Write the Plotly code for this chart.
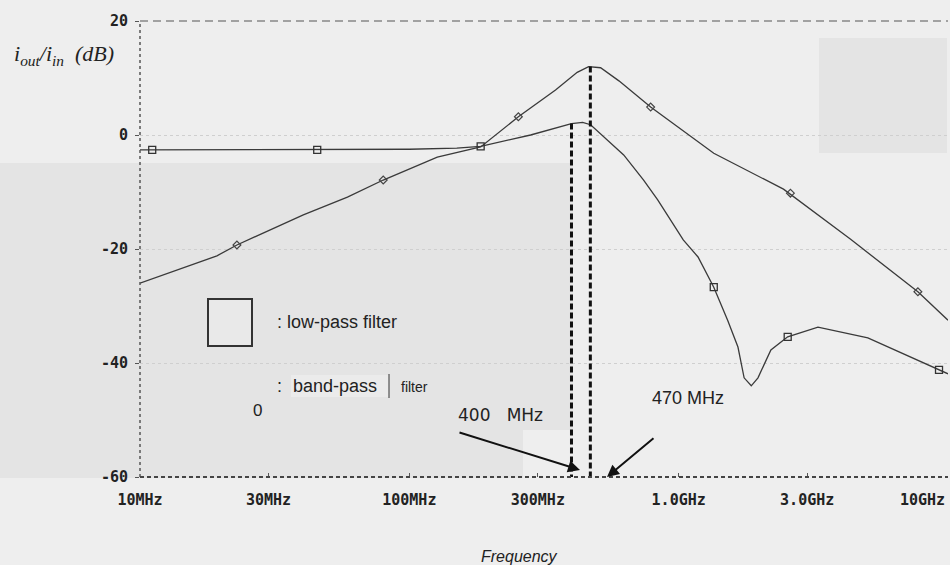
import plotly.graph_objects as go

# ---- data ----
lp_freq = [10, 30, 100, 150, 184, 282, 364, 400, 440, 471, 625, 741, 836, 1040, 1180,
           1350, 1520, 1660, 1750, 1860, 1970, 2200, 2540, 3290, 5040, 9260, 10000]
lp_db = [-2.6, -2.6, -2.5, -2.3, -2.0, 0.0, 1.4, 2.0, 2.2, 1.8, -3.5, -7.9, -11.4, -18.4, -21.4,
         -26.7, -32.5, -37.2, -42.6, -44.0, -42.6, -37.7, -35.4, -33.7, -35.6, -41.2, -41.9]

bp_freq = [10, 19.3, 22.9, 30.4, 40.4, 58.9, 80, 127, 184, 254, 349, 420, 463, 513, 600,
           787, 1350, 2450, 4350, 7730, 10000]
bp_db = [-26.0, -21.2, -19.3, -16.7, -14.0, -10.9, -7.9, -3.9, -2.1, 3.2, 7.9, 11.0, 12.0, 11.8, 9.5,
         4.9, -3.2, -9.5, -18.3, -27.5, -32.5]

lp_mk_freq = [11.1, 45.5, 184, 1350, 2540, 9260]
lp_mk_db = [-2.6, -2.6, -2.0, -26.7, -35.4, -41.2]
bp_mk_freq = [22.9, 80, 254, 787, 2600, 7730]
bp_mk_db = [-19.3, -7.9, 3.2, 4.9, -10.2, -27.5]

mark_freq = [400, 470]
mark_top = [2.0, 12.0]
y_bottom = -60

x_tickvals = [10, 30, 100, 300, 1000, 3000]
x_ticktext = ["10MHz", "30MHz", "100MHz", "300MHz", "1.0GHz", "3.0GHz"]
x_last_label = "10GHz"
y_tickvals = [20, 0, -20, -40, -60]
y_ticktext = ["20", "0", "-20", "-40", "-60"]

# ---- layout geometry (pixels) ----
W, H = 950, 565
L, R, T, B = 140, 948, 21, 477


def px(x):
    return (x - L) / (R - L)


def py(y):
    return (B - y) / (B - T)


PAPER = "#eeeeee"
BOX = "#e4e4e4"
INK = "#3a3a3a"
TICKFONT = dict(family="DejaVu Sans Mono", size=15, color="#222", weight="bold")

fig = go.Figure()

fig.add_trace(go.Scatter(x=lp_freq, y=lp_db, mode="lines",
                         line=dict(color=INK, width=1.3), showlegend=False))
fig.add_trace(go.Scatter(x=bp_freq, y=bp_db, mode="lines",
                         line=dict(color=INK, width=1.3), showlegend=False))
fig.add_trace(go.Scatter(x=lp_mk_freq, y=lp_mk_db, mode="markers",
                         marker=dict(symbol="square-open", size=7, color="#333",
                                     line=dict(width=1.3)), showlegend=False))
fig.add_trace(go.Scatter(x=bp_mk_freq, y=bp_mk_db, mode="markers",
                         marker=dict(symbol="diamond-open", size=6, color="#444",
                                     line=dict(width=1.2)), showlegend=False))
for f, top in zip(mark_freq, mark_top):
    fig.add_trace(go.Scatter(x=[f, f], y=[top, y_bottom], mode="lines",
                             line=dict(color="#111", width=3, dash="6px,3px"),
                             showlegend=False))

shapes = [
    # paste-over boxes
    dict(type="rect", xref="paper", yref="paper", x0=px(0), x1=px(573), y0=py(430), y1=py(163),
         fillcolor=BOX, line=dict(width=0), layer="below"),
    dict(type="rect", xref="paper", yref="paper", x0=px(0), x1=px(523), y0=py(478), y1=py(430),
         fillcolor=BOX, line=dict(width=0), layer="below"),
    dict(type="rect", xref="paper", yref="paper", x0=px(819), x1=px(947), y0=py(153), y1=py(38),
         fillcolor=BOX, line=dict(width=0), layer="below"),
    # frame lines
    dict(type="line", xref="paper", yref="paper", x0=0, x1=0, y0=0, y1=1,
         line=dict(color="#555", width=1.5, dash="dot")),
    dict(type="line", xref="paper", yref="paper", x0=0, x1=1, y0=1, y1=1,
         line=dict(color="#555", width=1.2, dash="8px,5px")),
    dict(type="line", xref="paper", yref="paper", x0=0, x1=1, y0=0, y1=0,
         line=dict(color="#444", width=2, dash="4px,3px")),
    # legend square
    dict(type="rect", xref="paper", yref="paper", x0=px(208), x1=px(252), y0=py(346), y1=py(299),
         fillcolor="#e9e9e9", line=dict(color="#333", width=2)),
    # highlight behind "band-pass"
    dict(type="rect", xref="paper", yref="paper", x0=px(291), x1=px(389), y0=py(397), y1=py(375),
         fillcolor="#ebebeb", line=dict(width=0), layer="below"),
    dict(type="line", xref="paper", yref="paper", x0=px(389), x1=px(389), y0=py(398), y1=py(374),
         line=dict(color="#333", width=1)),
]

ann = [
    dict(x=px(12), y=py(55), xref="paper", yref="paper", xanchor="left", yanchor="middle",
         text="<i>i</i><sub><i>out</i></sub><i>/i</i><sub><i>in</i></sub>&nbsp;&nbsp;<i>(dB)</i>",
         showarrow=False, font=dict(family="Liberation Serif", size=22, color="#222")),
    dict(x=px(519), y=py(556), xref="paper", yref="paper", xanchor="center", yanchor="middle",
         text="<i>Frequency</i>", showarrow=False,
         font=dict(family="Liberation Sans", size=16, color="#222")),
    dict(x=px(947), y=py(500), xref="paper", yref="paper", xanchor="right", yanchor="middle",
         text=x_last_label, showarrow=False, font=TICKFONT),
    dict(x=px(275), y=py(322), xref="paper", yref="paper", xanchor="left", yanchor="middle",
         text=": low-pass filter", showarrow=False,
         font=dict(family="Liberation Sans", size=18, color="#222")),
    dict(x=px(275), y=py(386), xref="paper", yref="paper", xanchor="left", yanchor="middle",
         text=":", showarrow=False,
         font=dict(family="Liberation Sans", size=18, color="#222")),
    dict(x=px(291), y=py(386), xref="paper", yref="paper", xanchor="left", yanchor="middle",
         text="band-pass", showarrow=False,
         font=dict(family="Liberation Sans", size=18, color="#222")),
    dict(x=px(399), y=py(387), xref="paper", yref="paper", xanchor="left", yanchor="middle",
         text="filter", showarrow=False,
         font=dict(family="Liberation Sans", size=14, color="#222")),
    dict(x=px(257), y=py(410), xref="paper", yref="paper", xanchor="center", yanchor="middle",
         text="0", showarrow=False,
         font=dict(family="Liberation Sans", size=17, color="#222")),
    dict(x=px(500), y=py(415), xref="paper", yref="paper", xanchor="center", yanchor="middle",
         text="400&nbsp;&nbsp;&nbsp;MHz", showarrow=False,
         font=dict(family="DejaVu Sans", size=17, color="#222")),
    dict(x=px(688), y=py(398), xref="paper", yref="paper", xanchor="center", yanchor="middle",
         text="470 MHz", showarrow=False,
         font=dict(family="Liberation Sans", size=18, color="#222")),
    # arrows
    dict(x=px(580), y=py(470), xref="paper", yref="paper", text="", showarrow=True,
         ax=-122, ay=-38, arrowhead=2, arrowsize=1.2, arrowwidth=2, arrowcolor="#111"),
    dict(x=px(607), y=py(477), xref="paper", yref="paper", text="", showarrow=True,
         ax=48, ay=-40, arrowhead=2, arrowsize=1.2, arrowwidth=2, arrowcolor="#111"),
]

fig.update_layout(
    width=W, height=H,
    margin=dict(l=L, r=W - R, t=T, b=H - B, autoexpand=False),
    paper_bgcolor=PAPER, plot_bgcolor="rgba(0,0,0,0)",
    shapes=shapes, annotations=ann, showlegend=False,
    xaxis=dict(type="log", range=[1, 4], tickvals=x_tickvals, ticktext=x_ticktext,
               ticks="inside", ticklen=4, tickcolor="#555", showgrid=False, showline=False,
               zeroline=False, ticklabelstandoff=12, tickfont=TICKFONT),
    yaxis=dict(range=[-60, 20], tickvals=y_tickvals, ticktext=y_ticktext,
               ticks="outside", ticklen=4, tickcolor="#555", showgrid=True,
               gridcolor="#cfcfcf", griddash="dot", gridwidth=1, showline=False,
               zeroline=False, ticklabelstandoff=4, tickfont=TICKFONT),
)

fig.write_html("out.html", config={"displayModeBar": False},
               post_script="document.body.style.margin='0';document.body.style.background='#eeeeee';")
